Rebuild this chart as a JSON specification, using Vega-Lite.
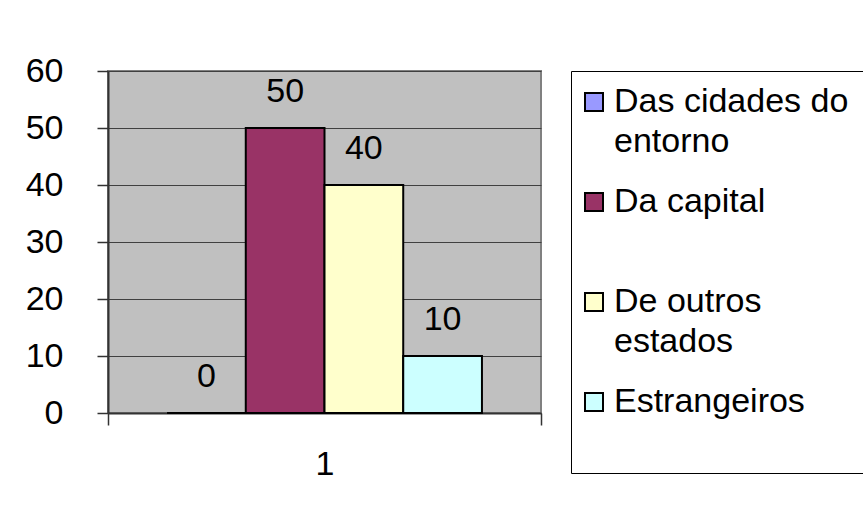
{
  "$schema": "https://vega.github.io/schema/vega-lite/v6.json",
  "width": 433,
  "height": 342,
  "autosize": {"type": "none"},
  "padding": {"left": 108, "top": 71, "right": 322, "bottom": 102},
  "background": "white",
  "data": {
    "values": [
      {"cat": "1", "serie": "Das cidades do entorno", "valor": 0},
      {"cat": "1", "serie": "Da capital", "valor": 50},
      {"cat": "1", "serie": "De outros estados", "valor": 40},
      {"cat": "1", "serie": "Estrangeiros", "valor": 10}
    ]
  },
  "encoding": {
    "x": {
      "field": "cat",
      "type": "nominal",
      "scale": {"paddingInner": 0, "paddingOuter": 0},
      "axis": {
        "title": null,
        "labelAngle": 0,
        "tickBand": "extent",
        "tickSize": 12,
        "tickColor": "#333333",
        "tickWidth": 1.5,
        "domainColor": "#333333",
        "domainWidth": 2,
        "labelPadding": 22,
        "labelFont": "Liberation Sans",
        "labelFontSize": 34,
        "labelColor": "black",
        "grid": false
      }
    },
    "xOffset": {
      "field": "serie",
      "type": "nominal",
      "sort": ["Das cidades do entorno", "Da capital", "De outros estados", "Estrangeiros"],
      "scale": {"paddingInner": 0, "paddingOuter": 0.75}
    },
    "y": {
      "field": "valor",
      "type": "quantitative",
      "scale": {"domain": [0, 60], "nice": false},
      "axis": {
        "title": null,
        "values": [0, 10, 20, 30, 40, 50, 60],
        "tickSize": 11,
        "tickColor": "#333333",
        "tickWidth": 1.5,
        "domainColor": "#333333",
        "domainWidth": 2,
        "labelPadding": 34,
        "labelFont": "Liberation Sans",
        "labelFontSize": 34,
        "labelColor": "black",
        "grid": true,
        "gridColor": "#404040",
        "gridWidth": 1
      }
    }
  },
  "layer": [
    {
      "mark": {"type": "bar", "stroke": "black", "strokeWidth": 2},
      "encoding": {
        "color": {
          "field": "serie",
          "type": "nominal",
          "scale": {
            "domain": ["Das cidades do entorno", "Da capital", "De outros estados", "Estrangeiros"],
            "range": ["#9999FF", "#993366", "#FFFFCC", "#CCFFFF"]
          },
          "legend": {
            "title": null,
            "orient": "right",
            "offset": 30,
            "padding": 14,
            "strokeColor": "#000000",
            "fillColor": "white",
            "symbolType": "square",
            "symbolSize": 324,
            "symbolStrokeColor": "black",
            "symbolStrokeWidth": 2,
            "symbolOpacity": 1,
            "symbolOffset": -8,
            "labelFont": "Liberation Sans",
            "labelFontSize": 34,
            "labelColor": "black",
            "labelOffset": 3,
            "labelLimit": 500,
            "labelBaseline": "top",
            "gridAlign": "each",
            "rowPadding": 26,
            "labelExpr": "datum.label == 'Das cidades do entorno' ? ['Das cidades do', 'entorno'] : datum.label == 'De outros estados' ? ['De outros', 'estados'] : [datum.label, '']",
            "encode": {
              "labels": {"update": {"lineHeight": {"value": 40}, "dy": {"value": -17}}}
            }
          }
        }
      }
    },
    {
      "mark": {"type": "text", "dy": -26, "baseline": "alphabetic", "fontSize": 34, "font": "Liberation Sans", "color": "black"},
      "encoding": {"text": {"field": "valor", "type": "quantitative"}}
    }
  ],
  "config": {
    "font": "Liberation Sans",
    "view": {"fill": "#C0C0C0", "stroke": "#808080", "strokeWidth": 2}
  }
}
